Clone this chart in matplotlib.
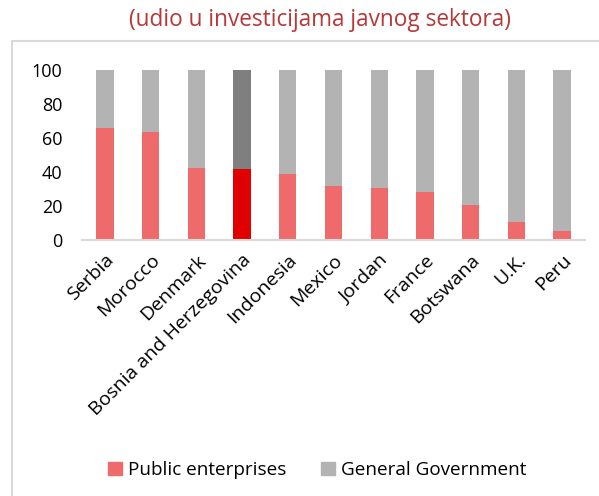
import matplotlib.pyplot as plt
import numpy as np
from matplotlib.patches import Rectangle, Patch

countries = ['Serbia', 'Morocco', 'Denmark', 'Bosnia and Herzegovina', 'Indonesia',
             'Mexico', 'Jordan', 'France', 'Botswana', 'U.K.', 'Peru']
public = [66, 63.5, 42.5, 42, 38.7, 32, 30.7, 28.5, 20.5, 10.3, 5.5]
general = [100 - v for v in public]

plt.rcParams['font.family'] = ['Open Sans', 'DejaVu Sans']

fig = plt.figure(figsize=(5.99, 4.96), dpi=100)
fig.patches.append(Rectangle((12 / 599, -0.05), 1.0, 1 - 41 / 496 + 0.05,
                             transform=fig.transFigure, fill=False,
                             edgecolor='#d9d9d9', linewidth=1.5))
fig.text(320 / 599, 1 - 20 / 496, '(udio u investicijama javnog sektora)',
         ha='center', va='center', color='#b83838', fontsize=16.3)

ax = fig.add_axes([82 / 599, 256 / 496, (585 - 82) / 599, 170 / 496])
x = np.arange(len(countries))
red = ['#e00000' if c.startswith('Bosnia') else '#ef6b6b' for c in countries]
grey = ['#7f7f7f' if c.startswith('Bosnia') else '#b3b3b3' for c in countries]
ax.bar(x, public, width=0.38, color=red)
ax.bar(x, general, bottom=public, width=0.38, color=grey)

ax.set_xlim(-0.5, len(countries) - 0.5)
ax.set_ylim(0, 100)
ax.set_yticks([0, 20, 40, 60, 80, 100])
ax.set_xticks(x)
ax.set_xticklabels(countries, rotation=45, ha='right', rotation_mode='anchor')
ax.tick_params(axis='y', length=0, labelsize=13, pad=14)
ax.tick_params(axis='x', length=0, labelsize=14, pad=8)
for s in ['top', 'right', 'left']:
    ax.spines[s].set_visible(False)
ax.spines['bottom'].set_color('#d9d9d9')
ax.spines['bottom'].set_linewidth(1.5)

handles = [Patch(color='#ef6b6b', label='Public enterprises'),
           Patch(color='#b3b3b3', label='General Government')]
fig.legend(handles=handles, loc='center', bbox_to_anchor=(317 / 599, 1 - 470 / 496),
           ncol=2, frameon=False, fontsize=13.6, handlelength=0.74, handleheight=0.68,
           columnspacing=1.85, handletextpad=0.32)

fig.savefig('out.png', dpi=100)
